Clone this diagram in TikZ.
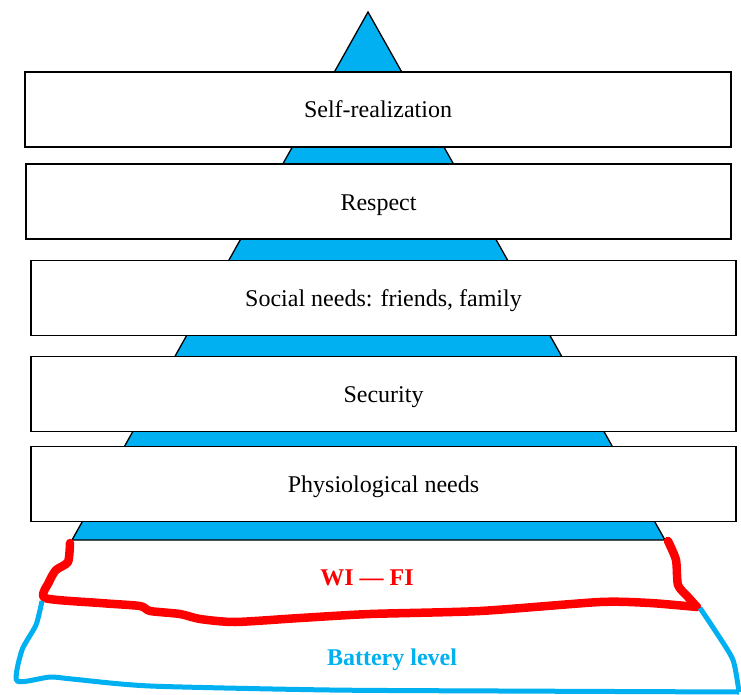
\documentclass[tikz,border=0pt]{standalone}
\usepackage{fontspec}
\setmainfont{Liberation Serif}
\definecolor{pyrblue}{HTML}{00B0F0}
\definecolor{wifired}{HTML}{FF0000}
\tikzset{
  level/.style={draw=black, line width=1.3pt, fill=white, inner sep=0pt,
    minimum height=75pt, text height=22pt, text depth=5pt,
    font=\fontsize{24}{28}\selectfont},
  hand/.style={font=\fontsize{24}{28}\selectfont\bfseries}
}
\begin{document}
\begin{tikzpicture}[x=1pt,y=-1pt]
    \useasboundingbox (0,0) rectangle (741,695);

    % pyramid behind the levels
    \draw[black, line width=1.3pt, fill=pyrblue] (368,12) -- (665,540) -- (72,540) -- cycle;

    \foreach \n/\x/\y/\w/\txt in {self/378/109.5/706/Self-realization,
                                  resp/378.5/201.5/705/Respect,
                                  soc/383.5/298/705/{Social needs: friends, family},
                                  sec/383.5/394/705/Security,
                                  phys/383.5/484/705/Physiological needs}
      \node[level, minimum width=\w pt] (\n) at (\x,\y) {\txt};

    % hand drawn outlines
    \draw[wifired, line width=8.5pt, line join=round, line cap=round]
      plot[smooth, tension=0.4] coordinates {(70,543) (68,562) (56,570) (49,582) (45,598)
        (100,603) (140,606) (150,611) (180,614) (200,619) (235,622) (300,618)
        (370,614) (480,611) (600,602) (650,603) (697,607)};
    \draw[wifired, line width=8.5pt, line join=round, line cap=round]
      plot[smooth, tension=0.4] coordinates {(697,607) (688,597) (678,585)
        (676,560) (668,541)};
    \draw[pyrblue, line width=5pt, line join=round]
      plot[smooth, tension=0.4] coordinates {(42,601) (36,625) (22,650) (17,681)
        (50,677) (72,679) (150,686) (330,690) (500,691) (739,692)};
    \draw[pyrblue, line width=5pt, line join=round]
      plot[smooth, tension=0.4] coordinates {(739,692) (733,660) (716,632) (700,608)};

    \node[hand, text=wifired] (wifi) at (367,578) {WI --- FI};
    \node[hand, text=pyrblue] (batt) at (392,660) {Battery level};
  \end{tikzpicture}
\end{document}
